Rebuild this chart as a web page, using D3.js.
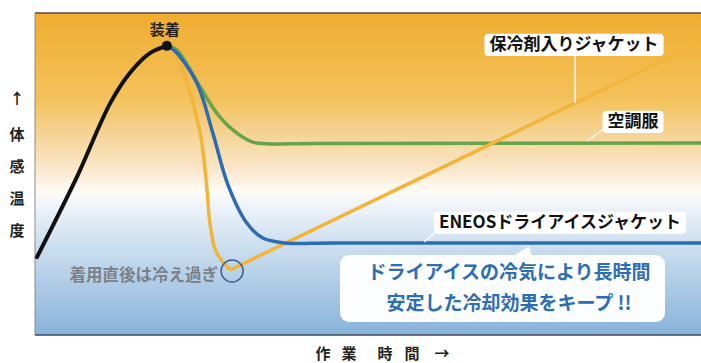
<!DOCTYPE html>
<html>
<head>
<meta charset="utf-8">
<script src="https://cdn.jsdelivr.net/npm/d3@7"></script>
<style>
  body { margin: 0; background: #fff; }
  svg { display: block; font-family: "Noto Sans CJK JP", "Noto Sans", sans-serif; }
</style>
</head>
<body>
<svg id="chart" width="701" height="363"></svg>
<script>
// 体感温度の推移（概念図）: [作業時間, 体感温度] 0〜100 の相対値
const warmUp = [[0.3, 24.2], [6.3, 49.1], [11.3, 72.0], [14.3, 81.5], [17.3, 87.6], [19.8, 89.8]];
const peak = [19.8, 89.8];

const icePackDip = [[19.8, 89.8], [21.3, 86.3], [22.8, 78.3], [24.8, 62.7], [25.7, 48.1], [26.3, 34.2], [27.2, 25.8], [29.3, 20.2]];
const icePackRise = [[29.3, 20.2], [69.4, 60.3], [100, 91.0]];

const fanWear = [[19.8, 89.8], [21.3, 88.5], [24.8, 77.0], [27.3, 68.9], [29.7, 63.7], [32.7, 59.9], [34.8, 59.4], [42, 59.5], [100, 59.6]];

const dryIce = [[19.8, 89.8], [21.0, 88.2], [24.3, 78.3], [26.7, 62.7], [29.0, 46.5], [31.8, 34.8], [34.2, 30.1], [37.5, 28.6], [45, 28.6], [100, 28.6]];

const seriesNames = ["保冷剤入りジャケット", "空調服", "ENEOSドライアイスジャケット"];
const peakLabel = "装着";
const overCoolLabel = "着用直後は冷え過ぎ";
const messageLines = ["ドライアイスの冷気により長時間", "安定した冷却効果をキープ !!"];
const yLabelChars = ["↑", "体", "感", "温", "度"];
const xLabelChars = ["作", "業", "時", "間", "→"];

const svg = d3.select("#chart");
const W = +svg.attr("width");
const H = +svg.attr("height");
const plot = { left: 35, top: 13, right: W, bottom: 335 };

const x = d3.scaleLinear().domain([0, 100]).range([plot.left, plot.right]);
const y = d3.scaleLinear().domain([0, 100]).range([plot.bottom, plot.top]);

// 保冷剤ジャケットの直線部分上の y（引き出し線の終点用）
function riseY(px) {
  const xv = x.invert(px);
  const i = d3.bisector(d => d[0]).left(icePackRise, xv);
  const a = icePackRise[Math.max(0, i - 1)], b = icePackRise[Math.min(icePackRise.length - 1, i)];
  const t = (xv - a[0]) / (b[0] - a[0]);
  return y(a[1] + (b[1] - a[1]) * t);
}

// 背景グラデーション（暑い→涼しい）
const grad = svg.append("defs").append("linearGradient")
  .attr("id", "bg").attr("x1", 0).attr("y1", 0).attr("x2", 0).attr("y2", 1);
[[0, "#f1ad2f"], [0.27, "#f3c25c"], [0.39, "#f5d69b"], [0.49, "#fbe8cd"], [0.555, "#fffcf6"],
 [0.6, "#eef3fa"], [0.7, "#d2e2f1"], [1, "#87b3da"]].forEach(s => {
  grad.append("stop").attr("offset", s[0]).attr("stop-color", s[1]);
});

svg.append("rect")
  .attr("x", plot.left).attr("y", plot.top)
  .attr("width", plot.right - plot.left).attr("height", plot.bottom - plot.top)
  .attr("fill", "url(#bg)");

// 枠線
svg.append("line").attr("x1", plot.left).attr("x2", plot.right).attr("y1", plot.top).attr("y2", plot.top)
  .attr("stroke", "#5a4a3a").attr("stroke-width", 1.5);
svg.append("line").attr("x1", plot.left).attr("x2", plot.right).attr("y1", plot.bottom).attr("y2", plot.bottom)
  .attr("stroke", "#3d4a5a").attr("stroke-width", 1.5);
svg.append("line").attr("x1", plot.left).attr("x2", plot.left).attr("y1", plot.top).attr("y2", plot.bottom)
  .attr("stroke", "#8a8a8a").attr("stroke-width", 1);

const curve = d3.line().x(d => x(d[0])).y(d => y(d[1])).curve(d3.curveCatmullRom.alpha(0.5));
const straight = d3.line().x(d => x(d[0])).y(d => y(d[1]));

// 曲線
svg.append("path").attr("d", curve(fanWear)).attr("fill", "none")
  .attr("stroke", "#66a34a").attr("stroke-width", 3.5);
svg.append("path").attr("d", curve(icePackDip)).attr("fill", "none")
  .attr("stroke", "#f2b53a").attr("stroke-width", 3.5).attr("stroke-linejoin", "round");
svg.append("path").attr("d", straight(icePackRise)).attr("fill", "none")
  .attr("stroke", "#f2b53a").attr("stroke-width", 3.5).attr("stroke-linejoin", "round");
svg.append("path").attr("d", curve(dryIce)).attr("fill", "none")
  .attr("stroke", "#2d6cb3").attr("stroke-width", 3.5);
svg.append("path").attr("d", curve(warmUp)).attr("fill", "none")
  .attr("stroke", "#111").attr("stroke-width", 4).attr("stroke-linecap", "round");

svg.append("circle").attr("cx", x(peak[0])).attr("cy", y(peak[1])).attr("r", 5).attr("fill", "#111");

svg.append("text")
  .attr("x", x(peak[0]) - 2).attr("y", y(peak[1]) - 11)
  .attr("text-anchor", "middle")
  .style("font-size", "15px").style("font-weight", "bold").attr("fill", "#222")
  .text(peakLabel);

// 冷え過ぎの丸
const minPt = icePackDip[icePackDip.length - 1];
svg.append("circle").attr("cx", x(minPt[0]) + 2).attr("cy", y(minPt[1]) + 1).attr("r", 11)
  .attr("fill", "none").attr("stroke", "#3d5f8c").attr("stroke-width", 1.5);

svg.append("text")
  .attr("x", 218).attr("y", 281)
  .attr("text-anchor", "end")
  .style("font-size", "16.5px").style("font-weight", "bold").attr("fill", "#7d7f84")
  .text(overCoolLabel);

// 引き出し線 + ラベル
function labelBox(txt, cx, baseline, size, leader) {
  const g = svg.append("g");
  if (leader) {
    g.append("line").attr("x1", leader[0]).attr("y1", leader[1]).attr("x2", leader[2]).attr("y2", leader[3])
      .attr("stroke", "#fff").attr("stroke-width", 1.5).attr("opacity", 0.9);
  }
  const rect = g.append("rect");
  const t = g.append("text")
    .attr("x", cx).attr("y", baseline)
    .attr("text-anchor", "middle")
    .style("font-size", size + "px").style("font-weight", "bold").attr("fill", "#111")
    .text(txt);
  const b = t.node().getBBox();
  rect.attr("x", b.x - 5).attr("y", baseline - size * 0.95)
    .attr("width", b.width + 10).attr("height", size * 1.3)
    .attr("rx", 4).attr("fill", "#fff");
}

labelBox(seriesNames[0], 574, 50, 17, [575, 50, 575, riseY(575)]);
labelBox(seriesNames[1], 633, 127, 17, [605, 128, 587, 141]);
labelBox(seriesNames[2], 560, 228, 17, [440, 228, 424, 242]);

// メッセージ吹き出し
const msg = svg.append("g");
msg.append("path")
  .attr("d", "M512,257 L532,257 L529," + (y(dryIce[dryIce.length - 1][1]) + 3) + " Z")
  .attr("fill", "#fff").attr("opacity", 0.9);
msg.append("rect").attr("x", 340).attr("y", 255).attr("width", 325).attr("height", 67)
  .attr("rx", 9).attr("fill", "#fff").attr("opacity", 0.96);
msg.selectAll("text").data(messageLines).enter().append("text")
  .attr("x", 509).attr("y", (d, i) => 279 + i * 31)
  .attr("text-anchor", "middle")
  .style("font-size", "19px").style("font-weight", "bold").attr("fill", "#2c6db4")
  .text(d => d);

// 軸ラベル
svg.selectAll(".ylab").data(yLabelChars).enter().append("text")
  .attr("class", "ylab")
  .attr("x", 17)
  .attr("y", (d, i) => i === 0 ? 104 : 108 + i * 32)
  .attr("text-anchor", "middle")
  .style("font-size", "15px").style("font-weight", "bold").attr("fill", "#222")
  .text(d => d);

svg.selectAll(".xlab").data(xLabelChars).enter().append("text")
  .attr("class", "xlab")
  .attr("x", (d, i) => [323, 349, 385, 412, 442][i])
  .attr("y", 359)
  .attr("text-anchor", "middle")
  .style("font-size", "15px").style("font-weight", "bold").attr("fill", "#222")
  .text(d => d);
</script>
</body>
</html>
